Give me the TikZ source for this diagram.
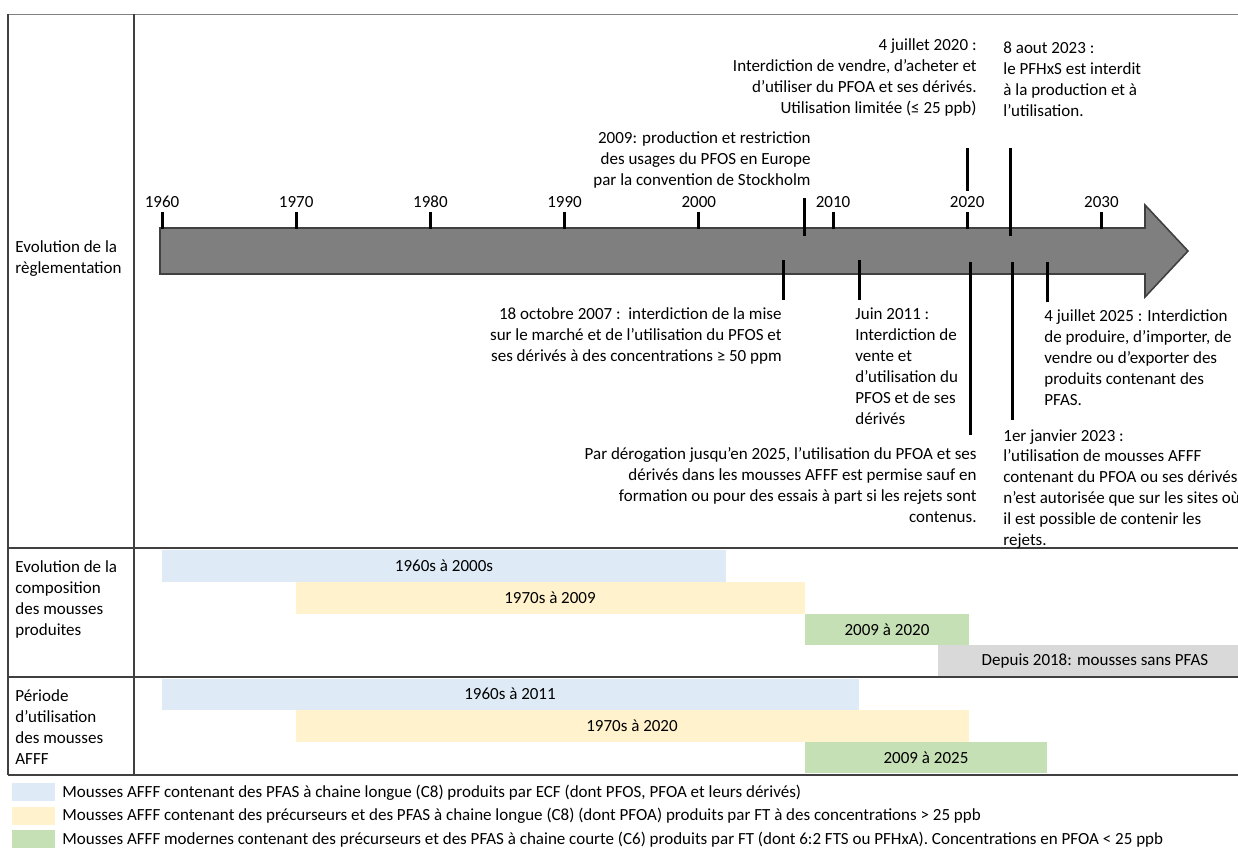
\documentclass[tikz,border=0pt]{standalone}
\usepackage{fontspec}
\setmainfont{Carlito}
\usetikzlibrary{positioning}
\definecolor{ecf}{HTML}{DEEBF7}
\definecolor{ftlong}{HTML}{FFF2CC}
\definecolor{ftcourt}{HTML}{C5E0B4}
\definecolor{sanspfas}{HTML}{D9D9D9}
\definecolor{frise}{HTML}{7F7F7F}
\definecolor{contour}{HTML}{404040}

\begin{document}
\begin{tikzpicture}[x=0.5pt,y=-0.5pt,
    every node/.style={font=\fontsize{8.5}{10.5}\selectfont, inner sep=0pt},
    regle/.style={line width=0.8pt, draw=contour},
    tick/.style={line width=1.5pt},
    evt/.style={line width=1.5pt},
    txtg/.style={anchor=north west, align=left},
    txtd/.style={anchor=north east, align=right},
    lab/.style={anchor=north west, align=left}]
  \useasboundingbox (0,0) rectangle (1238,848);

  % cadre
  \draw[line width=0.5pt, draw=gray] (8,14) -- (1238,14);
  \draw[regle] (8,14) -- (8,775) (134,14) -- (134,775);
  \draw[regle] (8,548) -- (1238,548) (8,677) -- (1238,677) (8,775) -- (1238,775);

  % titres des lignes
  \path
    (15,240) node[lab] (reglement) {Evolution de la\\règlementation}
    (15,560) node[lab] (compo) {Evolution de la\\composition\\des mousses\\produites}
    (15,689) node[lab] (usage) {Période\\d'utilisation\\des mousses\\AFFF}
    ;

  % frise
  \draw[fill=frise, draw=contour, line width=0.8pt]
    (160,228) -- (1145,228) -- (1145,205) -- (1188,251)
    -- (1145,297) -- (1145,274) -- (160,274) -- cycle;

  \foreach \yr in {1960,1970,...,2030} {
    \node (y\yr) at ({162+(\yr-1960)*13.42},202) {\yr};
    \draw[tick] ([yshift=-2pt]y\yr.south) -- ++(0,17);
  }

  % evenements
  \path
    (811,131) node[txtd] (stockholm) {2009: production et restriction\\des usages du PFOS en Europe\\par la convention de Stockholm}
    (977,38) node[txtd] (pfoa2020) {4 juillet 2020 :\\Interdiction de vendre, d’acheter et\\d’utiliser du PFOA et ses dérivés.\\Utilisation limitée (≤ 25 ppb)}
    (1003,41) node[txtg] (pfhxs) {8 aout 2023 :\\le PFHxS est interdit\\à la production et à\\l’utilisation.}
    (782,307) node[txtd] (oct2007) {18 octobre 2007 :\ \ interdiction de la mise\\sur le marché et de l’utilisation du PFOS et\\ses dérivés à des concentrations ≥ 50 ppm}
    (855,307) node[txtg] (juin2011) {Juin 2011 :\\Interdiction de\\vente et\\d'utilisation du\\PFOS et de ses\\dérivés}
    (977,447) node[txtd] (derog) {Par dérogation jusqu’en 2025, l’utilisation du PFOA et ses\\dérivés dans les mousses AFFF est permise sauf en\\formation ou pour des essais à part si les rejets sont\\contenus.}
    (1003,429) node[txtg, font=\fontsize{8.5}{10.4}\selectfont] (jan2023) {1er janvier 2023 :\\l'utilisation de mousses AFFF\\contenant du PFOA ou ses dérivés\\n’est autorisée que sur les sites où\\il est possible de contenir les\\rejets.}
    (1044,309) node[txtg] (juil2025) {4 juillet 2025 : Interdiction\\de produire, d’importer, de\\vendre ou d’exporter des\\produits contenant des\\PFAS.}
    ;

  \coordinate (stock a) at (804,198);  \coordinate (stock b) at (804,236);
  \coordinate (p20 a) at (967,148);    \coordinate (p20 b) at (967,191);
  \coordinate (px23 a) at (1010,148);  \coordinate (px23 b) at (1010,236);
  \coordinate (o07 a) at (783,260);    \coordinate (o07 b) at (783,300);
  \coordinate (j11 a) at (859,260);    \coordinate (j11 b) at (859,300);
  \coordinate (d20 a) at (970,262);    \coordinate (d20 b) at (970,435);
  \coordinate (j23 a) at (1012,262);   \coordinate (j23 b) at (1012,420);
  \coordinate (j25 a) at (1047,262);   \coordinate (j25 b) at (1047,302);

  \draw[evt] (stock a) -- (stock b);
  \draw[evt] (p20 a) -- (p20 b);
  \draw[evt] (px23 a) -- (px23 b);
  \draw[evt] (o07 a) -- (o07 b);
  \draw[evt] (j11 a) -- (j11 b);
  \draw[evt] (d20 a) -- (d20 b);
  \draw[evt] (j23 a) -- (j23 b);
  \draw[evt] (j25 a) -- (j25 b);

  % composition des mousses produites
  \fill[ecf] (162,550) rectangle (726,582);
  \fill[ftlong] (296,582) rectangle (805,614);
  \fill[ftcourt] (805,614) rectangle (969,645);
  \fill[sanspfas] (938,645) rectangle (1238,676);
  \node (c1) at (444,566) {1960s à 2000s};
  \node (c2) at (550,598) {1970s à 2009};
  \node (c3) at (887,630) {2009 à 2020};
  \node (c4) at (1095,661) {Depuis 2018: mousses sans PFAS};

  % periode d'utilisation
  \fill[ecf] (162,679) rectangle (859,710);
  \fill[ftlong] (296,710) rectangle (969,742);
  \fill[ftcourt] (805,742) rectangle (1047,773);
  \node (u1) at (510,694) {1960s à 2011};
  \node (u2) at (632,726) {1970s à 2020};
  \node (u3) at (926,758) {2009 à 2025};

  % legende
  \fill[ecf] (12,783) rectangle (55,801);
  \fill[ftlong] (12,807) rectangle (55,825);
  \fill[ftcourt] (12,830) rectangle (55,848);
  \node[anchor=west] (leg1) at (62,793) {Mousses AFFF contenant des PFAS à chaine longue (C8) produits par ECF (dont PFOS, PFOA et leurs dérivés)};
  \node[anchor=west] (leg2) at (62,816) {Mousses AFFF contenant des précurseurs et des PFAS à chaine longue (C8) (dont PFOA) produits par FT à des concentrations > 25 ppb};
  \node[anchor=west] (leg3) at (62,840) {Mousses AFFF modernes contenant des précurseurs et des PFAS à chaine courte (C6) produits par FT (dont 6:2 FTS ou PFHxA). Concentrations en PFOA < 25 ppb};
\end{tikzpicture}
\end{document}
